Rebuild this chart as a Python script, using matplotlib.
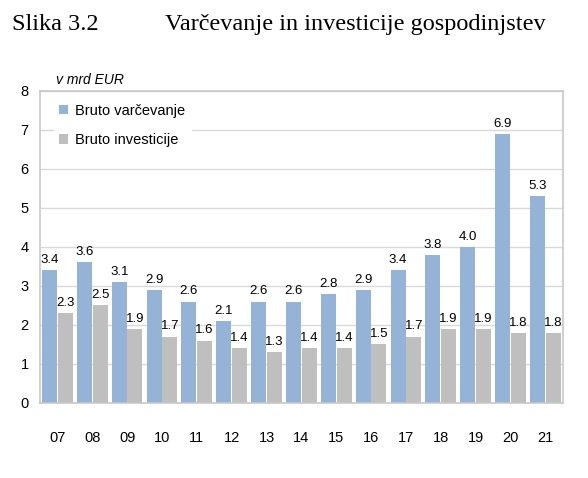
import matplotlib.pyplot as plt
import numpy as np

years = ['07', '08', '09', '10', '11', '12', '13', '14', '15', '16', '17', '18', '19', '20', '21']
savings = [3.4, 3.6, 3.1, 2.9, 2.6, 2.1, 2.6, 2.6, 2.8, 2.9, 3.4, 3.8, 4.0, 6.9, 5.3]
investment = [2.3, 2.5, 1.9, 1.7, 1.6, 1.4, 1.3, 1.4, 1.4, 1.5, 1.7, 1.9, 1.9, 1.8, 1.8]

BLUE = '#95B3D7'
GRAY = '#BFBFBF'

plt.rcParams['font.family'] = ['Liberation Sans', 'DejaVu Sans']

fig = plt.figure(figsize=(5.88, 4.78), dpi=100)
ax = fig.add_axes([0.068, 0.157, 0.889, 0.653])

x = np.arange(len(years))
w = 0.43
b1 = ax.bar(x - 0.225, savings, w, color=BLUE, label='Bruto varčevanje', zorder=2)
b2 = ax.bar(x + 0.225, investment, w, color=GRAY, label='Bruto investicije', zorder=2)

for bars, vals in ((b1, savings), (b2, investment)):
    for r, v in zip(bars, vals):
        ax.annotate(f'{v:.1f}', (r.get_x() + r.get_width() / 2, v),
                    xytext=(0, 3), textcoords='offset points',
                    ha='center', va='bottom', fontsize=9.5)

ax.set_xlim(-0.5, len(years) - 0.5)
ax.set_ylim(0, 8)
ax.set_yticks(range(0, 9))
ax.set_xticks(x)
ax.set_xticklabels(years)
ax.tick_params(axis='both', length=0, labelsize=10.5)
ax.tick_params(axis='x', pad=20)
ax.tick_params(axis='y', pad=8)
ax.yaxis.grid(True, color='#D9D9D9', linewidth=1)
ax.set_axisbelow(True)
for s in ax.spines.values():
    s.set_color('#C8C8C8')
    s.set_linewidth(1.2)

leg = ax.legend(loc='upper left', bbox_to_anchor=(0.012, 1.0), frameon=True,
                fancybox=False, edgecolor='white', framealpha=1,
                handlelength=0.6, handleheight=0.6, handletextpad=0.5,
                labelspacing=1.05, fontsize=10.5, borderpad=0.4)
leg.set_zorder(5)

ax.text(0.03, 1.012, 'v mrd EUR', transform=ax.transAxes, style='italic',
        fontsize=10, ha='left', va='bottom')

fig.text(0.02, 0.948, 'Slika 3.2', family='Liberation Serif', fontsize=17.5,
         ha='left', va='center')
fig.text(0.28, 0.948, 'Varčevanje in investicije gospodinjstev', family='Liberation Serif',
         fontsize=17.5, ha='left', va='center')

fig.savefig('out.png', dpi=100)
